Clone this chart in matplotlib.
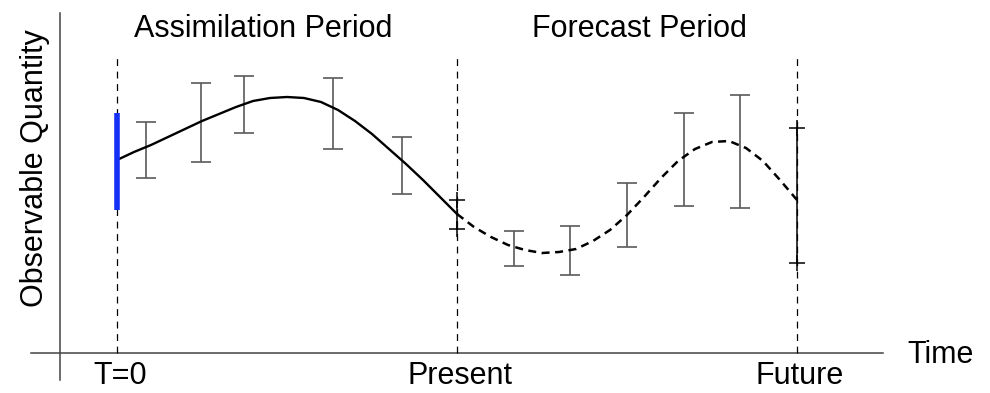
import matplotlib
matplotlib.use("Agg")
import matplotlib.pyplot as plt

plt.rcParams["font.family"] = ["Liberation Sans", "DejaVu Sans"]

# Trajectoire du modele (periode d'assimilation, trait plein)
t_assim = [0, 0.5, 1, 1.5, 2, 2.5, 3, 3.5, 4, 4.5, 5, 5.5, 6, 6.5, 7, 7.5, 8, 8.5, 9, 9.5, 10]
y_assim = [19.3, 20.1, 20.8, 21.6, 22.4, 23.2, 23.9, 24.6, 25.2, 25.5, 25.6, 25.5, 25.1, 24.3,
           23.2, 21.9, 20.4, 18.9, 17.3, 15.6, 13.9]

# Prevision (tirets)
t_prev = [10, 10.5, 11, 11.5, 12, 12.5, 13, 13.5, 14, 14.5, 15, 15.5, 16, 16.5, 17, 17.5, 18,
          18.5, 19, 19.5, 20]
y_prev = [13.9, 12.6, 11.6, 10.8, 10.3, 10.0, 10.1, 10.4, 11.2, 12.3, 13.8, 15.6, 17.5, 19.2,
          20.4, 21.1, 21.2, 20.5, 19.2, 17.3, 15.3]

# Observations (barres d'erreur grises)
t_obs = [0.85, 2.47, 3.74, 6.35, 8.38, 11.67, 13.33, 15.0, 16.67, 18.33]
obs_bas = [17.5, 19.1, 22.0, 20.4, 15.9, 8.7, 7.8, 10.6, 14.7, 14.5]
obs_haut = [23.1, 27.0, 27.7, 27.5, 21.6, 12.2, 12.7, 17.0, 24.0, 25.8]

# Incertitude du modele au present et au futur (barres noires)
t_incert = [10, 20]
inc_bas = [12.4, 9.0]
inc_haut = [15.3, 22.5]

# Incertitude initiale (barre bleue a T=0)
t_init = 0
init_bas, init_haut = 14.3, 24.0

# Reperes de temps
t_reperes = [0, 10, 20]
noms_reperes = ["T=0", "Present", "Future"]

fig = plt.figure(figsize=(9.9, 3.93), dpi=100)
ax = fig.add_axes([0, 0, 1, 1])
ax.set_xlim(-117 / 34, (990 - 117) / 34)
ax.set_ylim(-4.0, 35.3)
ax.axis("off")

# Axes dessines a la main
ax.plot([-1.68, -1.68], [-2.7, 34.0], color="#444444", lw=1.1)
ax.plot([-2.53, 22.53], [0, 0], color="#444444", lw=1.1)

# Lignes verticales en tirets
for t in t_reperes:
    ax.plot([t, t], [0, 30.0], color="black", lw=0.9, dashes=(5.5, 4.5))

# Barres d'erreur des observations
ax.errorbar(t_obs, [(b + h) / 2 for b, h in zip(obs_bas, obs_haut)],
            yerr=[[(h - b) / 2 for b, h in zip(obs_bas, obs_haut)]] * 2,
            fmt="none", ecolor="#5a5a5a", elinewidth=1.2, capsize=7, capthick=1.2)

# Barres noires avec extremites en croix
ax.vlines(t_incert, inc_bas, inc_haut, color="black", lw=1.1)
ax.plot(t_incert + t_incert, inc_bas + inc_haut, linestyle="none", marker="+",
        markersize=11, markeredgewidth=1.1, color="black")

# Courbes
ax.plot(t_assim, y_assim, color="black", lw=1.7)
ax.plot(t_prev, y_prev, color="black", lw=1.8, dashes=(3.2, 2.2))

# Barre bleue
ax.plot([t_init, t_init], [init_bas, init_haut], color="#1530f5", lw=4, solid_capstyle="butt")

# Textes
ax.text(4.3, 31.6, "Assimilation Period", fontsize=22, ha="center", va="baseline")
ax.text(15.38, 31.6, "Forecast Period", fontsize=22, ha="center", va="baseline")
ax.text(-2.41, 18.5, "Observable Quantity", fontsize=22, rotation=90,
        ha="center", va="center")
for t, nom in zip(t_reperes, noms_reperes):
    ax.text(t + 0.08, -3.1, nom, fontsize=22, ha="center", va="baseline")
ax.text(23.24, -1.0, "Time", fontsize=22, ha="left", va="baseline")

fig.savefig("out.png", dpi=100)
